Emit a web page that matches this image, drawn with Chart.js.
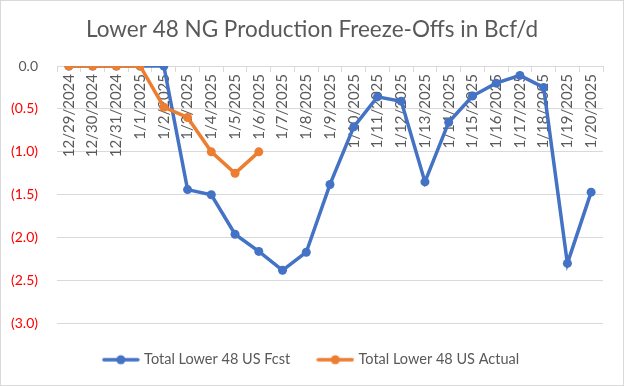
<!DOCTYPE html>
<html>
<head>
<meta charset="utf-8">
<script src="https://cdn.jsdelivr.net/npm/chart.js@4"></script>
<style>
  html, body { margin: 0; padding: 0; background: #fff; }
  #wrap { width: 624px; height: 386px; box-sizing: border-box; border: 1px solid #d9d9d9; }
  canvas { display: block; }
</style>
</head>
<body>
<div id="wrap"><canvas id="chart" width="622" height="384"></canvas></div>
<script>
// ==================== DATA ====================
const days = ['12/29/2024','12/30/2024','12/31/2024','1/1/2025','1/2/2025','1/3/2025','1/4/2025','1/5/2025',
  '1/6/2025','1/7/2025','1/8/2025','1/9/2025','1/10/2025','1/11/2025','1/12/2025','1/13/2025','1/14/2025',
  '1/15/2025','1/16/2025','1/17/2025','1/18/2025','1/19/2025','1/20/2025'];
const fcst = [0, 0, 0, 0, 0, -1.44, -1.50, -1.96, -2.16, -2.38, -2.17, -1.38, -0.71, -0.36, -0.41, -1.35,
  -0.655, -0.35, -0.20, -0.11, -0.25, -2.30, -1.47];
const actual = [0, 0, 0, 0, -0.48, -0.60, -1.0, -1.25, -1.0];
const yTicks = [0, -0.5, -1.0, -1.5, -2.0, -2.5, -3.0];

const BLUE = '#4472C4', ORANGE = '#ED7D31', GREY = '#595959', GRID = '#d9d9d9';
const FONT = 'Lato, "Open Sans", sans-serif';

// little line-with-dot icon for the legend
function legendIcon(color){
  const c = document.createElement('canvas');
  c.width = 38; c.height = 12;
  const g = c.getContext('2d');
  g.strokeStyle = color; g.lineWidth = 3.5; g.lineCap = 'round';
  g.beginPath(); g.moveTo(2, 6); g.lineTo(36, 6); g.stroke();
  g.fillStyle = color;
  g.beginPath(); g.arc(19, 6, 4.5, 0, Math.PI*2); g.fill();
  return c;
}

// empty axis used only to reserve space
function spacer(axis, position, size){
  return {
    type: 'linear', axis: axis, position: position,
    grid: { display: false }, border: { display: false }, ticks: { display: false },
    afterFit: a => { if (axis === 'x') a.height = size; else a.width = size; }
  };
}

const series = [
  { label: 'Total Lower 48 US Fcst', data: fcst, color: BLUE, order: 1 },
  { label: 'Total Lower 48 US Actual', data: actual, color: ORANGE, order: 0 }
];

new Chart(document.getElementById('chart'), {
  type: 'line',
  data: {
    labels: days,
    datasets: series.map(s => ({
      label: s.label,
      data: s.data,
      order: s.order,
      xAxisID: 'x',
      yAxisID: 'y',
      borderColor: s.color,
      backgroundColor: s.color,
      borderWidth: 3.5,
      pointRadius: 4.5,
      pointHoverRadius: 4.5,
      pointBorderWidth: 0,
      tension: 0,
      fill: false
    }))
  },
  options: {
    responsive: false,
    animation: false,
    devicePixelRatio: 1,
    layout: { padding: { left: 0, right: 0, top: 0, bottom: 8 } },
    scales: {
      x: {
        position: { y: 0 },
        offset: true,
        grid: { offset: true, drawOnChartArea: false, drawTicks: true, tickLength: 5, color: GRID },
        border: { color: GRID },
        ticks: {
          color: GREY, font: { family: FONT, size: 15 },
          minRotation: 90, maxRotation: 90, autoSkip: false, padding: 3
        }
      },
      y: {
        min: -3, max: 0,
        afterBuildTicks: axis => { axis.ticks = yTicks.map(v => ({ value: v })); },
        afterFit: axis => { axis.width = 56; },
        grid: { color: GRID, drawTicks: false },
        border: { display: false },
        ticks: {
          padding: 19,
          font: { family: FONT, size: 14 },
          color: ctx => ctx.tick.value < 0 ? '#ff0000' : GREY,
          callback: v => v === 0 ? '0.0' : '(' + Math.abs(v).toFixed(1) + ')'
        }
      },
      gapRight: spacer('y', 'right', 20)
    },
    plugins: {
      title: {
        display: true,
        text: 'Lower 48 NG Production Freeze-Offs in Bcf/d',
        color: GREY,
        font: { family: FONT, size: 22.5, weight: 'normal' },
        padding: { top: 15.5, bottom: 22.5 }
      },
      legend: {
        position: 'bottom',
        labels: {
          color: GREY,
          font: { family: FONT, size: 14.5 },
          usePointStyle: true,
          pointStyleWidth: 32,
          padding: 29,
          generateLabels: chart => series.map((s, i) => ({
            text: s.label,
            fontColor: GREY,
            pointStyle: legendIcon(s.color),
            datasetIndex: i,
            hidden: false,
            lineWidth: 0
          }))
        }
      },
      tooltip: { enabled: false }
    }
  }
});
</script>
</body>
</html>
